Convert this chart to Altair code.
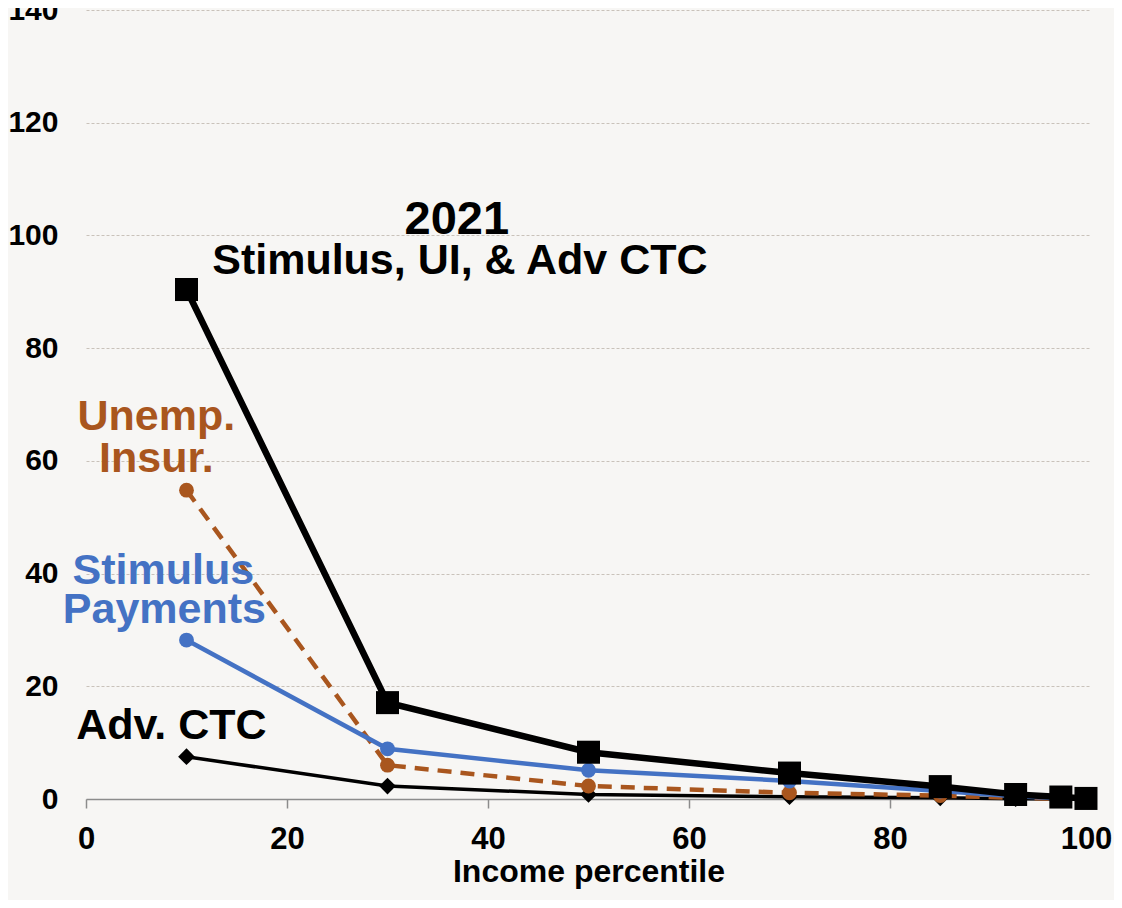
import altair as alt
import pandas as pd

# ---- data ----
percentiles = [10, 30, 50, 70, 85, 92.5, 97, 99.5]
total = [90.4, 17.1, 8.3, 4.6, 2.2, 0.8, 0.35, 0.1]
unemp = [54.8, 6.0, 2.3, 1.1, 0.6, 0.2, 0.05, 0.0]
stimulus = [28.2, 8.9, 5.1, 3.2, 1.4, 0.5, 0.15, 0.05]
adv_ctc = [7.5, 2.3, 0.8, 0.4, 0.2, 0.05, 0.0, 0.0]

x_ticks = [0, 20, 40, 60, 80, 100]
y_ticks = [0, 20, 40, 60, 80, 100, 120, 140]

ann_text = ["2021", "Stimulus, UI, & Adv CTC", "Unemp.", "Insur.", "Stimulus", "Payments", "Adv. CTC"]
ann_x = [36.9, 37.2, 7.0, 7.0, 7.7, 7.8, 8.5]
ann_y = [100.2, 93.2, 65.5, 58.0, 38.1, 31.2, 10.6]
ann_color = ["#000000", "#000000", "#A9561E", "#A9561E", "#4472C4", "#4472C4", "#000000"]
ann_size = [47, 43, 43, 43, 43, 43, 43]

FONT = "Liberation Sans"

rows = []
for name, vals in [("total", total), ("unemp", unemp), ("stimulus", stimulus), ("ctc", adv_ctc)]:
    for p, v in zip(percentiles, vals):
        rows.append({"series": name, "pct": p, "value": v})
df = pd.DataFrame(rows)

ann = pd.DataFrame({"text": ann_text, "x": ann_x, "y": ann_y, "color": ann_color, "size": ann_size})

xscale = alt.Scale(domain=[0, 100], nice=False, zero=False)
yscale = alt.Scale(domain=[0, 140], nice=False)

xaxis = alt.Axis(values=x_ticks, title="Income percentile", grid=False,
                 labelFont=FONT, labelFontWeight="bold", labelFontSize=31, labelColor="#000000",
                 titleFont=FONT, titleFontWeight="bold", titleFontSize=32, titleColor="#000000",
                 tickSize=9, tickColor="#8c8c8c", domainColor="#8c8c8c", domainWidth=1.5, tickWidth=1.5,
                 labelPadding=16, titlePadding=2, labelFlush=False,
                 labelOffset={"condition": {"test": "datum.value === 100", "value": -5}, "value": 0})
yaxis = alt.Axis(values=y_ticks, title=None, grid=True, gridColor="#c9c2ba", gridDash=[3, 2], gridWidth=1,
                 domain=False, ticks=False, labelPadding=28,
                 labelFont=FONT, labelFontWeight="bold", labelFontSize=30, labelColor="#000000")

base = alt.Chart(df)


def series_layers(name, color, width, shape, size, dash=None):
    src = base.transform_filter(alt.datum.series == name)
    line_kwargs = dict(color=color, strokeWidth=width)
    if dash:
        line_kwargs["strokeDash"] = dash
    line = src.mark_line(**line_kwargs).encode(
        x=alt.X("pct:Q", scale=xscale, axis=xaxis),
        y=alt.Y("value:Q", scale=yscale, axis=yaxis),
    )
    pts = src.mark_point(shape=shape, size=size, filled=True, color=color, opacity=1).encode(
        x=alt.X("pct:Q", scale=xscale),
        y=alt.Y("value:Q", scale=yscale),
    )
    return [line, pts]


layers = []
layers += series_layers("ctc", "#000000", 3.5, "diamond", 280)
layers += series_layers("unemp", "#A9561E", 4.5, "circle", 220, dash=[14, 9])
layers += series_layers("stimulus", "#4472C4", 4.5, "circle", 220)
layers += series_layers("total", "#000000", 6.5, "square", 530)

text = alt.Chart(ann).mark_text(font=FONT, fontWeight="bold", baseline="alphabetic", align="center").encode(
    x=alt.X("x:Q", scale=xscale),
    y=alt.Y("y:Q", scale=yscale),
    text="text:N",
    color=alt.Color("color:N", scale=None),
    size=alt.Size("size:Q", scale=None),
)
layers.append(text)

chart = alt.layer(*layers).properties(
    width=1005, height=789,
    autosize=alt.AutoSizeParams(type="none"),
    padding={"left": 78, "top": 2, "right": 23, "bottom": 101},
    background="#f7f6f4",
).configure_view(stroke=None)

chart.save("out.html", embed_options={"renderer": "svg", "actions": False})
